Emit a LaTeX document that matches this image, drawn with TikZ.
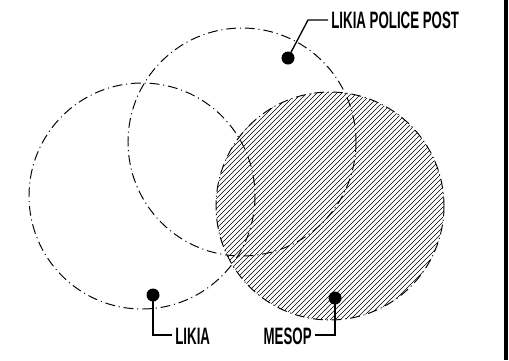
\documentclass[tikz,border=0pt]{standalone}
\usepackage{fontspec}
\setmainfont{Liberation Sans}[FakeStretch=0.56]
\usetikzlibrary{positioning}
\tikzset{
  zone circle/.style={line width=0.55pt,dash pattern=on 5.6pt off 2.2pt on 0.6pt off 2.2pt},
  hatch line/.style={line width=0.36pt},
  site dot/.style={circle,fill,minimum size=0.26cm,inner sep=0pt},
  leader line/.style={line width=0.75pt},
  site label/.style={inner sep=0.06cm,font=\fontsize{13.5pt}{15pt}\selectfont\bfseries},
}

\begin{document}
\begin{tikzpicture}[x=0.02cm,y=-0.02cm]
  \useasboundingbox (0,0) rectangle (509,360);
  % hatched zone
  \begin{scope}
    \clip (330,206) circle (114);
    \foreach \k in {370,375,...,705}{
      \draw[hatch line] ({\k-80},80) -- ({\k-330},330);
    }
  \end{scope}
  \draw[zone circle] (330,206) circle (114);
  \draw[zone circle] (142,196) circle (113);
  \draw[zone circle] (242,142) circle (114);
  % sites
  \node[site dot] (post dot) at (288,58) {};
  \node[site dot] (likia dot) at (153,295) {};
  \node[site dot] (mesop dot) at (335,298) {};
  \node[site label,anchor=west] (post label) at (328,20) {LIKIA POLICE POST};
  \node[site label,anchor=west] (likia label) at (172,336) {LIKIA};
  \node[site label,anchor=east] (mesop label) at (315,336) {MESOP};
  \coordinate (post bend) at (308,20);
  \coordinate (likia bend) at (153,335);
  \coordinate (mesop bend) at (335,335);
  \draw[leader line] (post dot.center) -- (post bend) -- (post label.west);
  \draw[leader line] (likia dot.center) -- (likia bend) -- (likia label.west |- likia bend);
  \draw[leader line] (mesop dot.center) -- (mesop bend) -- (mesop label.east |- mesop bend);
  % frame edge
  \draw[line width=2.3pt] (506,0) -- (506,360);
\end{tikzpicture}
\end{document}
